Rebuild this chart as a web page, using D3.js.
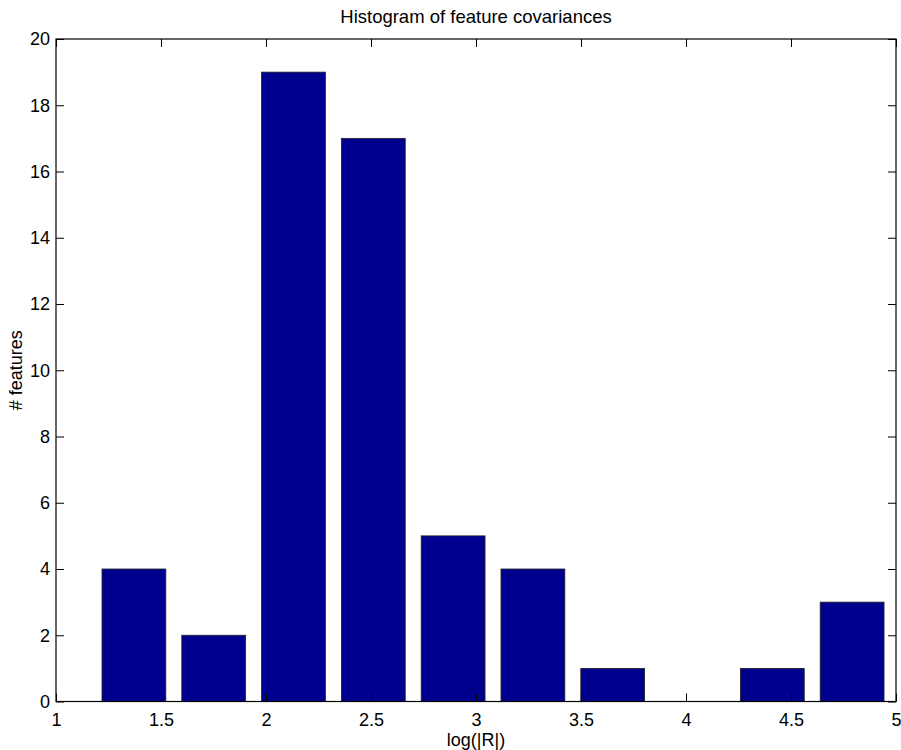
<!DOCTYPE html>
<html>
<head>
<meta charset="utf-8">
<script src="https://cdnjs.cloudflare.com/ajax/libs/d3/7.8.5/d3.min.js"></script>
<style>
  body { margin: 0; background: #fff; }
  text { font-family: "Liberation Sans", Arial, Helvetica, sans-serif; fill: #000; }
</style>
</head>
<body>
<div id="chart"></div>
<script>
// histogram bins (centers) and counts
var binCenters = [1.371, 1.751, 2.131, 2.511, 2.891, 3.271, 3.651, 4.031, 4.411, 4.791];
var counts = [4, 2, 19, 17, 5, 4, 1, 0, 1, 3];
var xTicks = [1, 1.5, 2, 2.5, 3, 3.5, 4, 4.5, 5];
var yTicks = [0, 2, 4, 6, 8, 10, 12, 14, 16, 18, 20];
var barWidth = 0.304; // in x units, 0.8 of the bin width

var margin = {top: 39, right: 5, bottom: 48.5, left: 56};
var width = 901 - margin.left - margin.right;
var height = 750 - margin.top - margin.bottom;

var svg = d3.select("#chart").append("svg")
    .attr("width", 901)
    .attr("height", 750);

var g = svg.append("g")
    .attr("transform", "translate(" + margin.left + "," + margin.top + ")");

var x = d3.scaleLinear().domain([1, 5]).range([0, width]);
var y = d3.scaleLinear().domain([0, 20]).range([height, 0]);

//bars
g.selectAll("rect.bar")
    .data(counts)
    .enter().append("rect")
    .attr("class", "bar")
    .attr("x", (d, i) => x(binCenters[i] - barWidth / 2))
    .attr("width", (d, i) => x(binCenters[i] + barWidth / 2) - x(binCenters[i] - barWidth / 2))
    .attr("y", d => y(d))
    .attr("height", d => y(0) - y(d))
    .style("fill", "#00008f")
    .style("stroke", "#222")
    .style("stroke-width", 0.8);

//axes, ticks point inward like matlab
function styleAxis(sel) {
    sel.select(".domain").remove();
    sel.selectAll(".tick line").style("stroke", "#000").style("stroke-width", 1);
    sel.selectAll(".tick text").style("font-size", "18px")
        .style("font-family", '"Liberation Sans", Arial, Helvetica, sans-serif');
}

g.append("g")
    .attr("transform", "translate(0," + height + ")")
    .call(d3.axisBottom(x).tickValues(xTicks).tickSize(-8).tickPadding(12).tickFormat(d3.format("")))
    .call(styleAxis);

g.append("g")
    .call(d3.axisTop(x).tickValues(xTicks).tickSize(-8).tickFormat(""))
    .call(styleAxis);

g.append("g")
    .call(d3.axisLeft(y).tickValues(yTicks).tickSize(-8).tickPadding(6))
    .call(styleAxis);

g.append("g")
    .attr("transform", "translate(" + width + ",0)")
    .call(d3.axisRight(y).tickValues(yTicks).tickSize(-8).tickFormat(""))
    .call(styleAxis);

//box
g.append("rect")
    .attr("width", width)
    .attr("height", height)
    .style("fill", "none")
    .style("stroke", "#000")
    .style("stroke-width", 1.2);

//title and labels
svg.append("text")
    .attr("x", margin.left + width / 2)
    .attr("y", 23)
    .style("text-anchor", "middle")
    .style("font-size", "18.5px")
    .text("Histogram of feature covariances");

svg.append("text")
    .attr("x", margin.left + width / 2)
    .attr("y", 746)
    .style("text-anchor", "middle")
    .style("font-size", "18px")
    .text("log(|R|)");

svg.append("text")
    .attr("transform", "rotate(-90)")
    .attr("x", -(margin.top + height / 2))
    .attr("y", 22)
    .style("text-anchor", "middle")
    .style("font-size", "18px")
    .text("# features");
</script>
</body>
</html>
